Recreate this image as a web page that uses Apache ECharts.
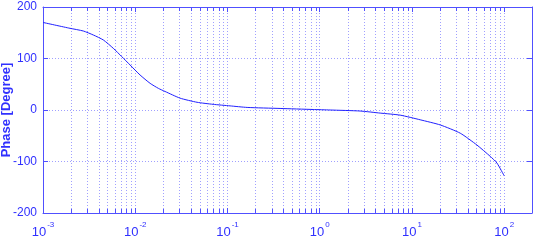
<!DOCTYPE html>
<html>
<head>
<meta charset="utf-8">
<script src="https://cdn.jsdelivr.net/npm/echarts@6/dist/echarts.min.js"></script>
<style>
html,body{margin:0;padding:0;background:#fff;}
#chart{width:538px;height:240px;}
</style>
</head>
<body>
<div id="chart"></div>
<script>
// Frequencies (x, log scale) and phase values (degrees)
const freq = [0.001, 0.001963, 0.002735, 0.003516, 0.004508, 0.005781, 0.007145, 0.00879, 0.011272, 0.014488, 0.017824, 0.02104, 0.03062, 0.046774, 0.069823, 0.10666, 0.163305, 0.371535, 0.847227, 1.297, 2.742, 4.519, 7.447, 12.27, 20.23, 33.34, 50.58, 70.47, 83.37, 100];
const phase = [170, 158.6, 153.4, 145.6, 136, 119.8, 103.6, 87.4, 68, 51.8, 42, 36, 23, 15, 11, 8, 5, 3, 1, 0, -2, -6, -10, -19, -29, -45, -68, -90, -103, -128];
const yTicks = [-200, -100, 0, 100, 200];
const decades = [0.001, 0.01, 0.1, 1, 10, 100];
const minorMultipliers = [2, 3, 4, 5, 6, 7, 8, 9];

const minorTicks = [];
decades.forEach(d => minorMultipliers.forEach(m => { const v = d * m; if (v < 200) minorTicks.push(v); }));

const blue = '#3030ff';
const axisBlue = '#5050ff';
const gridBlue = '#a0a0ff';
const font = 'Liberation Sans, Arial, sans-serif';

function decadeLabel(v) {
  const l = Math.log10(v);
  const n = Math.round(l);
  if (Math.abs(l - n) > 1e-6) return '';
  return '{b|10}{s|' + n + '}';
}

const chart = echarts.init(document.getElementById('chart'), null, {renderer: 'canvas'});
const xCommon = {
  type: 'log', logBase: 10, min: 0.001, max: 200,
  axisLine: {show: true, onZero: false, lineStyle: {color: axisBlue, width: 1}},
  axisTick: {show: true, inside: true, length: 5, lineStyle: {color: axisBlue}},
};
const yCommon = {
  type: 'value', min: -200, max: 200, interval: 100,
  axisLine: {show: true, onZero: false, lineStyle: {color: axisBlue, width: 1}},
  axisTick: {show: true, inside: true, length: 5, lineStyle: {color: axisBlue}},
};

chart.setOption({
  animation: false,
  backgroundColor: '#fff',
  grid: {left: 43, top: 7, right: 6, bottom: 27, containLabel: false, outerBoundsMode: 'none'},
  xAxis: [
    Object.assign({}, xCommon, {
      position: 'bottom',
      axisLabel: {
        formatter: decadeLabel, margin: 8, color: blue, fontFamily: font, hideOverlap: false,
        rich: {
          b: {fontSize: 13, color: blue, fontFamily: font, verticalAlign: 'bottom'},
          s: {fontSize: 8, color: blue, fontFamily: font, verticalAlign: 'top', padding: [0, 0, 10, 1]}
        }
      },
      splitLine: {show: true, lineStyle: {color: gridBlue, type: [1, 2], width: 1}}
    }),
    Object.assign({}, xCommon, {
      position: 'top',
      axisLabel: {show: false},
      splitLine: {show: false}
    })
  ],
  yAxis: [
    Object.assign({}, yCommon, {
      position: 'left',
      name: 'Phase [Degree]',
      nameLocation: 'middle',
      nameGap: 30,
      nameMoveOverlap: false,
      nameRotate: 90,
      nameTextStyle: {color: blue, fontSize: 13, fontWeight: 'bold', fontFamily: font},
      axisLabel: {color: blue, fontSize: 12, fontFamily: font, margin: 6},
      splitLine: {show: true, lineStyle: {color: gridBlue, type: [1, 2], width: 1}}
    }),
    Object.assign({}, yCommon, {
      position: 'right',
      axisLabel: {show: false},
      splitLine: {show: false}
    })
  ],
  series: [
    {
      type: 'custom',
      xAxisIndex: 0, yAxisIndex: 0,
      silent: true,
      z: 1,
      clip: false,
      data: minorTicks.map(v => [v, 0]),
      encode: {x: 0, y: 1},
      renderItem: function (params, api) {
        const v = api.value(0);
        const t = api.coord([v, yTicks[yTicks.length - 1]]);
        const b = api.coord([v, yTicks[0]]);
        const x = Math.round(t[0]) + 0.5;
        return {
          type: 'group',
          children: [
            {type: 'line', shape: {x1: x, y1: t[1], x2: x, y2: b[1]},
             style: {stroke: gridBlue, lineWidth: 1, lineDash: [1, 2]}},
            {type: 'line', shape: {x1: x, y1: b[1], x2: x, y2: b[1] - 4},
             style: {stroke: axisBlue, lineWidth: 1}},
            {type: 'line', shape: {x1: x, y1: t[1], x2: x, y2: t[1] + 4},
             style: {stroke: axisBlue, lineWidth: 1}}
          ]
        };
      }
    },
    {
      type: 'line',
      xAxisIndex: 0, yAxisIndex: 0,
      data: freq.map((f, i) => [f, phase[i]]),
      showSymbol: false,
      smooth: 0.2,
      z: 3,
      lineStyle: {color: '#2020ff', width: 1}
    }
  ]
});
</script>
</body>
</html>
